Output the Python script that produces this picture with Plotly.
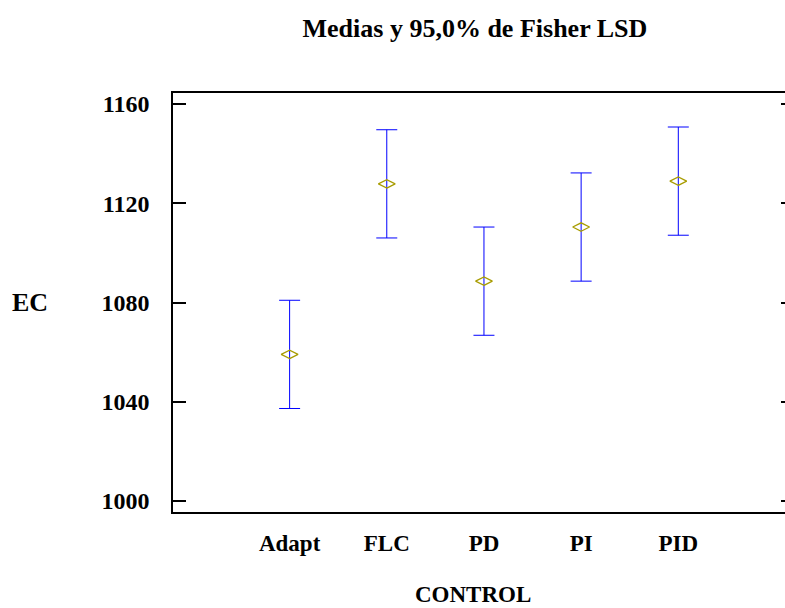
import plotly.graph_objects as go

# Means and 95% Fisher LSD half-intervals per controller
controls = ["Adapt", "FLC", "PD", "PI", "PID"]
means = [1059.1, 1127.8, 1088.6, 1110.4, 1128.9]
half_lsd = [21.8, 21.8, 21.8, 21.8, 21.8]

y_ticks = [1000, 1040, 1080, 1120, 1160]

serif = "Liberation Serif"
black = "#000000"

fig = go.Figure()
fig.add_trace(go.Scatter(
    x=list(range(len(controls))),
    y=means,
    mode="markers",
    marker=dict(symbol="diamond-wide-open", size=12, color="#a89c00",
                line=dict(width=1.3, color="#a89c00")),
    error_y=dict(type="data", array=half_lsd, visible=True,
                 color="#0000ff", thickness=1, width=10.5),
    showlegend=False,
    cliponaxis=False,
))
# invisible trace that carries the right-hand tick axis
fig.add_trace(go.Scatter(x=[0], y=[means[0]], yaxis="y2", mode="markers",
                         marker=dict(opacity=0), showlegend=False,
                         hoverinfo="skip"))

fig.update_layout(
    width=785, height=608,
    margin=dict(l=173, r=0, t=93, b=96),
    paper_bgcolor="white", plot_bgcolor="white",
    font=dict(family=serif, color=black, size=23, weight="bold"),
    title=dict(text="Medias y 95,0% de Fisher LSD", x=0.605, xanchor="center",
               y=1 - 28 / 608, yanchor="middle",
               font=dict(family=serif, size=26, weight="bold", color=black)),
    xaxis=dict(range=[-1.2, 5.098], tickmode="array",
               tickvals=list(range(len(controls))), ticktext=controls,
               ticks="", showgrid=False, zeroline=False,
               showline=True, linecolor=black, linewidth=1.5, mirror=True,
               ticklabelstandoff=10,
               tickfont=dict(family=serif, size=23, weight="bold", color=black)),
    yaxis=dict(range=[995.6, 1164.4], tickmode="array", tickvals=y_ticks,
               ticks="inside", ticklen=13, tickwidth=1.5, tickcolor=black,
               showgrid=False, zeroline=False,
               showline=True, linecolor=black, linewidth=1.5,
               ticklabelstandoff=17,
               tickfont=dict(family=serif, size=24, weight="bold", color=black)),
    yaxis2=dict(overlaying="y", side="right", matches="y", tickmode="array",
                tickvals=y_ticks, ticks="inside", ticklen=4, tickwidth=1.5,
                tickcolor=black, showticklabels=False, showgrid=False,
                zeroline=False, showline=False),
    annotations=[
        dict(text="EC", xref="paper", yref="paper", x=-0.233, y=0.5,
             xanchor="center", yanchor="middle", showarrow=False,
             font=dict(family=serif, size=26, weight="bold", color=black)),
        dict(text="CONTROL", xref="paper", yref="paper", x=0.49, y=-0.198,
             xanchor="center", yanchor="middle", showarrow=False,
             font=dict(family=serif, size=23, weight="bold", color=black)),
    ],
)

fig.write_html("out.html")
